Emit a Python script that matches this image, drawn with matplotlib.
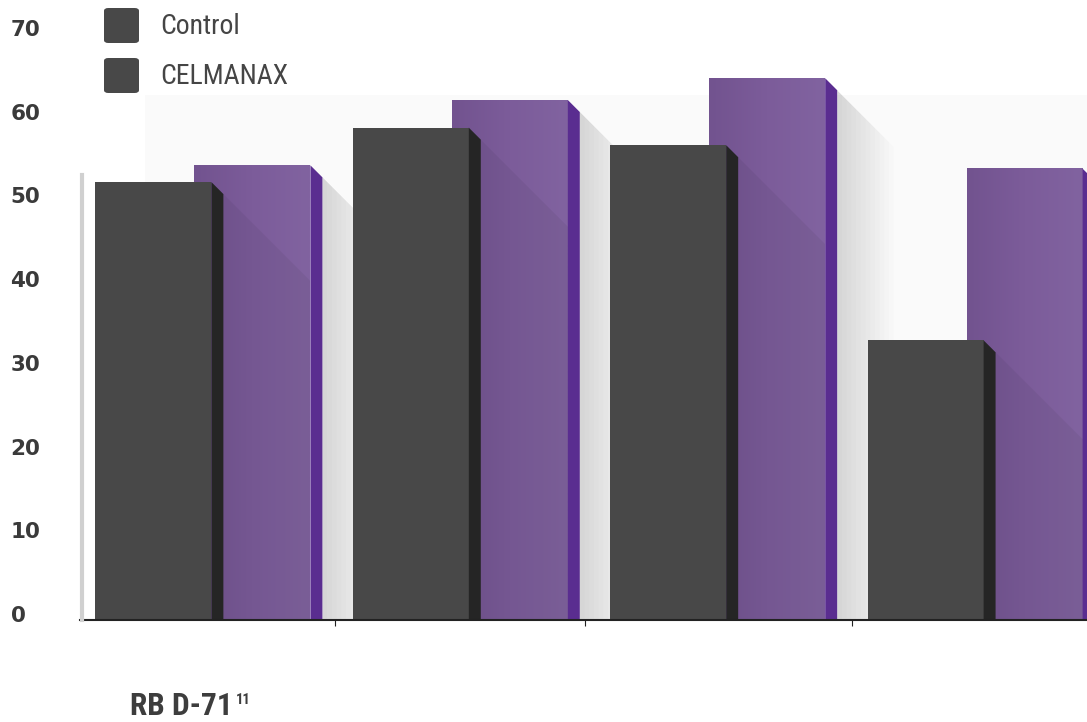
import numpy as np
import matplotlib.pyplot as plt
from matplotlib.patches import Polygon, Rectangle, FancyBboxPatch
from matplotlib.colors import LinearSegmentedColormap
from matplotlib.transforms import ScaledTranslation

# values
control = [52.3, 58.8, 56.7, 33.4]
celmanax = [54.3, 62.1, 64.7, 53.9]
yticks = [0, 10, 20, 30, 40, 50, 60, 70]
legend_labels = ['Control', 'CELMANAX']

dark = '#484848'
dark_side = '#252525'
purple_side = '#5a2d90'
purple_cmap = LinearSegmentedColormap.from_list('p', ['#72538f', '#7c5c9a', '#8163a0'])

W, H = 1087, 722
fig = plt.figure(figsize=(W / 100, H / 100), dpi=100)
ax = fig.add_axes([80 / W, 102 / H, 1007 / W, 592 / H])
step = 257.4  # px per group
ax.set_xlim(-15.4 / step, (1007 - 15.4) / step)
ax.set_ylim(0, 70.7)
ax.set_facecolor('none')

# px -> data helpers
px_x = 1 / step
px_y = 70.7 / 592
k = step / (592 / 70.7)  # 45 deg slope in data units

bw = 116 * px_x      # bar width
off = 99 * px_x      # purple offset
d = 12 * px_x        # side depth
bev = 12 * px_y      # bevel drop

# faint backdrop
ax.add_patch(Rectangle((50 * px_x, 0), 5, 525 * px_y, color='#fafafa', zorder=0, lw=0))


def side(x, top, color, z):
    xr = x + bw
    ax.add_patch(Polygon([(xr, top), (xr + d, top - bev), (xr + d, 0), (xr, 0)],
                         closed=True, color=color, lw=0, zorder=z))


def shadow(x, top, z, width, alpha, layers=12):
    xr = x + bw + d
    for i in range(1, layers + 1):
        s = width * i / layers
        ax.add_patch(Polygon([(xr, top - bev), (xr + s, top - bev - s * k), (xr + s, 0), (xr, 0)],
                             closed=True, color='black', alpha=alpha / layers, lw=0, zorder=z))


x = np.arange(len(control))
for i in range(len(x)):
    z = 2 + i * 10
    xp = x[i] + off
    # purple (behind)
    shadow(xp, celmanax[i], z, 0.22, 0.12)
    grad = np.linspace(0, 1, 100).reshape(1, -1)
    ax.imshow(grad, extent=[xp, xp + bw, 0, celmanax[i]], aspect='auto', cmap=purple_cmap,
              zorder=z + 1, interpolation='bilinear')
    side(xp, celmanax[i], purple_side, z + 2)
    # dark bar shadow falling on purple
    clip = Rectangle((xp, 0), bw, celmanax[i], transform=ax.transData)
    xr = x[i] + bw + d
    s = xp + bw - xr
    top = control[i] - bev
    sh = Polygon([(xr, top), (xr + s, top - s * k), (xr + s, 0), (xr, 0)], closed=True,
                 color='black', alpha=0.05, lw=0, zorder=z + 3)
    ax.add_patch(sh)
    sh.set_clip_path(clip)
    # control bar
    ax.bar(x[i], control[i], width=bw, align='edge', color=dark, zorder=z + 4, lw=0)
    side(x[i], control[i], dark_side, z + 5)

# axes styling
for sp in ['top', 'right', 'left']:
    ax.spines[sp].set_visible(False)
ax.spines['bottom'].set_color('#222222')
ax.spines['bottom'].set_linewidth(1.5)
ax.spines['bottom'].set_zorder(60)
ax.set_xticks([0.931, 1.902, 2.939])
ax.set_xticklabels([])
ax.tick_params(axis='x', length=4, color='#222222')
ax.set_yticks(yticks)
ax.set_yticklabels([str(t) for t in yticks], fontsize=15.5, fontweight='bold',
                   color='#3a3a3a', ha='left')
ax.tick_params(axis='y', length=0, pad=50)
for lab in ax.get_yticklabels():
    lab.set_transform(lab.get_transform() + ScaledTranslation(0, 6 / 100, fig.dpi_scale_trans))

# light gray vertical line at left
fig.add_artist(plt.Line2D([82 / W, 82 / W], [102 / H, (H - 175) / H], color='#d0d0d0', lw=3))

# legend
font = ['Roboto Condensed', 'Roboto']
for j, lab in enumerate(legend_labels):
    y0 = 8 + j * 50
    fig.add_artist(FancyBboxPatch((104 / W, (H - y0 - 35) / H), 35 / W, 35 / H,
                                  boxstyle='round,pad=0,rounding_size=0.004',
                                  transform=fig.transFigure, color=dark, lw=0))
    fig.text(160 / W, (H - y0 - 18) / H, lab, family=font, fontsize=20,
             color='#454545', va='center', ha='left')

fig.text(130 / W, (H - 715) / H, 'RB D-71', family=font, fontsize=22.5, fontweight='bold',
         color='#3d3d3d', va='baseline', ha='left')
fig.text(236 / W, (H - 704) / H, '11', family=font, fontsize=10.5, fontweight='bold',
         color='#3d3d3d', va='baseline', ha='left')

fig.savefig('out.png', dpi=100, facecolor='white')
